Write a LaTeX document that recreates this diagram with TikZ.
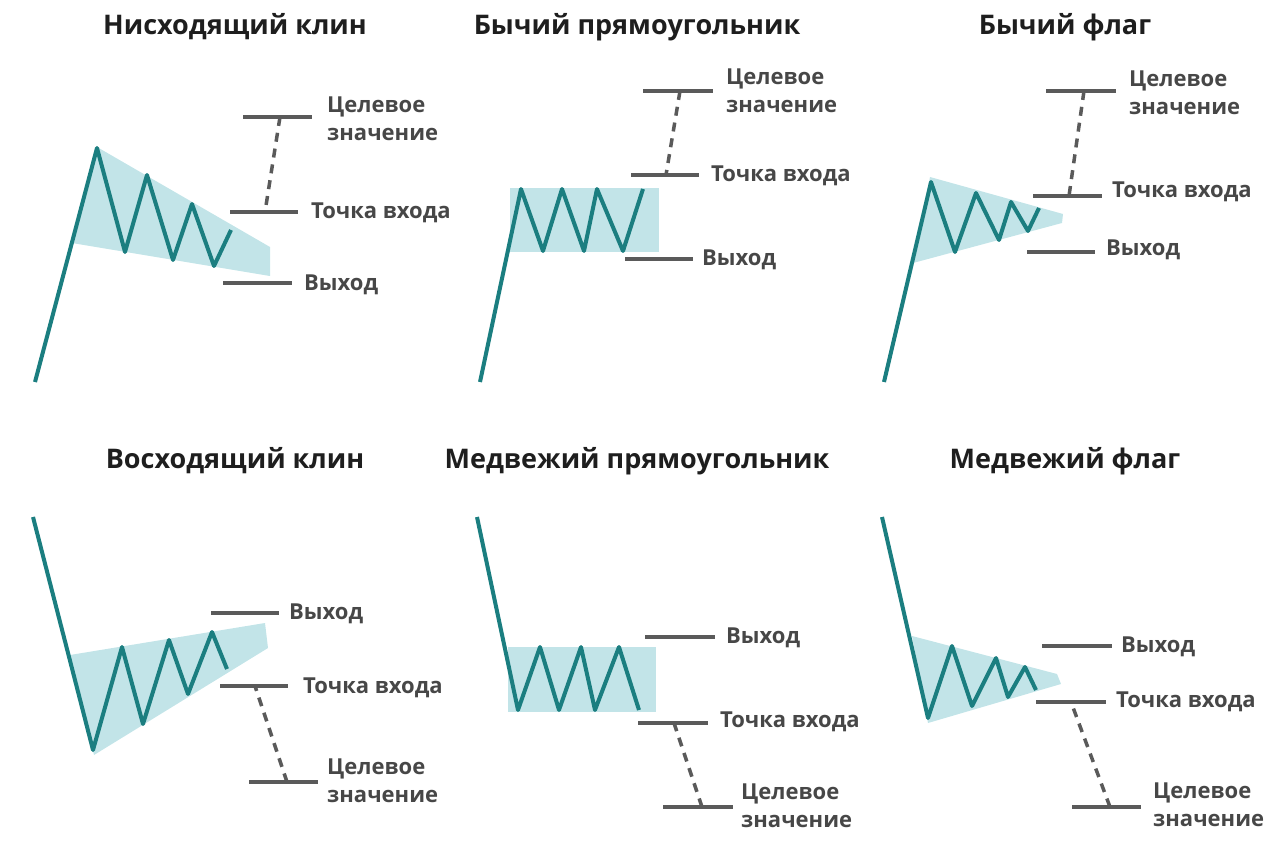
\documentclass[tikz,border=0pt]{standalone}
\usepackage{fontspec}
\setmainfont{Open Sans}
\definecolor{trend}{HTML}{1B7E80}
\definecolor{zone}{HTML}{C2E4E8}
\definecolor{bar}{HTML}{5A5A5A}
\definecolor{tagtext}{HTML}{474747}
\definecolor{headtext}{HTML}{1E1E1E}

\begin{document}
\begin{tikzpicture}[x=1pt, y=-1pt]

    % Define styles
    \tikzstyle{headline} = [font=\bfseries\fontsize{27}{32}\selectfont, text=headtext]
    \tikzstyle{tag} = [anchor=west, inner sep=0pt, align=left,
        font=\bfseries\fontsize{22}{28}\selectfont, text=tagtext]
    \tikzstyle{price} = [draw=trend, line width=4pt, line join=round]
    \tikzstyle{band} = [fill=zone]
    \tikzstyle{levelbar} = [draw=bar, line width=4pt]
    \tikzstyle{projection} = [draw=bar, line width=3.5pt, dash pattern=on 9pt off 7pt]

    \useasboundingbox (0,0) rectangle (1280,848);

    % Falling wedge
    \node[headline] (fallTitle) at (235,27) {Нисходящий клин};
    \fill[band] (97,147) -- (270,247) -- (270,276) -- (72,243) -- cycle;
    \draw[price] (35,382) -- (97,148) -- (125,252) -- (147,175) -- (173,260)
        -- (192,204) -- (214,266) -- (231,230);
    \coordinate (fallTarget1) at (243,117);
    \coordinate (fallTarget2) at (312,117);
    \coordinate (fallGoal) at (280,117);
    \coordinate (fallEntry1) at (230,212);
    \coordinate (fallEntry2) at (298,212);
    \coordinate (fallStart) at (265,212);
    \coordinate (fallExit1) at (223,283);
    \coordinate (fallExit2) at (292,283);
    \node[tag] (fallTargetText) at (327,119) {Целевое\\значение};
    \node[tag] (fallEntryText) at (311,213) {Точка входа};
    \node[tag] (fallExitText) at (304,285) {Выход};

    % Bullish rectangle
    \node[headline] (bullRectTitle) at (637,27) {Бычий прямоугольник};
    \fill[band] (510,188) rectangle (659,252);
    \draw[price] (480,382) -- (521,189) -- (543,251) -- (562,189) -- (584,251)
        -- (597,189) -- (623,251) -- (643,189);
    \coordinate (bullRectTarget1) at (643,91);
    \coordinate (bullRectTarget2) at (713,91);
    \coordinate (bullRectGoal) at (680,91);
    \coordinate (bullRectEntry1) at (631,175);
    \coordinate (bullRectEntry2) at (699,175);
    \coordinate (bullRectStart) at (666,175);
    \coordinate (bullRectExit1) at (625,259);
    \coordinate (bullRectExit2) at (693,259);
    \node[tag] (bullRectTargetText) at (726,91) {Целевое\\значение};
    \node[tag] (bullRectEntryText) at (711,176) {Точка входа};
    \node[tag] (bullRectExitText) at (702,260) {Выход};

    % Bullish flag
    \node[headline] (bullFlagTitle) at (1065,27) {Бычий флаг};
    \fill[band] (930,177) -- (1063,214) -- (1062,223) -- (913,263) -- cycle;
    \draw[price] (884,382) -- (931,182) -- (955,252) -- (976,193) -- (999,240)
        -- (1011,202) -- (1028,231) -- (1039,208);
    \coordinate (bullFlagTarget1) at (1046,91);
    \coordinate (bullFlagTarget2) at (1116,91);
    \coordinate (bullFlagGoal) at (1084,91);
    \coordinate (bullFlagEntry1) at (1033,196);
    \coordinate (bullFlagEntry2) at (1102,196);
    \coordinate (bullFlagStart) at (1069,196);
    \coordinate (bullFlagExit1) at (1027,252);
    \coordinate (bullFlagExit2) at (1095,252);
    \node[tag] (bullFlagTargetText) at (1129,93) {Целевое\\значение};
    \node[tag] (bullFlagEntryText) at (1112,192) {Точка входа};
    \node[tag] (bullFlagExitText) at (1106,250) {Выход};

    % Rising wedge
    \node[headline] (riseTitle) at (235,461) {Восходящий клин};
    \fill[band] (70,655) -- (265,623) -- (268,648) -- (94,755) -- cycle;
    \draw[price] (33,517) -- (93,750) -- (122,647) -- (143,724) -- (169,640)
        -- (188,694) -- (212,632) -- (227,669);
    \coordinate (riseExit1) at (211,613);
    \coordinate (riseExit2) at (279,613);
    \coordinate (riseEntry1) at (220,686);
    \coordinate (riseEntry2) at (288,686);
    \coordinate (riseStart) at (255,686);
    \coordinate (riseTarget1) at (249,782);
    \coordinate (riseTarget2) at (318,782);
    \coordinate (riseGoal) at (287,782);
    \node[tag] (riseExitText) at (289,614) {Выход};
    \node[tag] (riseEntryText) at (303,688) {Точка входа};
    \node[tag] (riseTargetText) at (327,781) {Целевое\\значение};

    % Bearish rectangle
    \node[headline] (bearRectTitle) at (637,461) {Медвежий прямоугольник};
    \fill[band] (508,647) rectangle (656,712);
    \draw[price] (477,517) -- (518,710) -- (540,647) -- (559,710) -- (581,647)
        -- (595,710) -- (619,647) -- (639,710);
    \coordinate (bearRectExit1) at (645,637);
    \coordinate (bearRectExit2) at (715,637);
    \coordinate (bearRectEntry1) at (638,723);
    \coordinate (bearRectEntry2) at (708,723);
    \coordinate (bearRectStart) at (674,723);
    \coordinate (bearRectTarget1) at (663,807);
    \coordinate (bearRectTarget2) at (733,807);
    \coordinate (bearRectGoal) at (702,807);
    \node[tag] (bearRectExitText) at (726,638) {Выход};
    \node[tag] (bearRectEntryText) at (720,722) {Точка входа};
    \node[tag] (bearRectTargetText) at (741,806) {Целевое\\значение};

    % Bearish flag
    \node[headline] (bearFlagTitle) at (1065,461) {Медвежий флаг};
    \fill[band] (912,636) -- (1057,674) -- (1061,684) -- (928,723) -- cycle;
    \draw[price] (882,517) -- (928,718) -- (952,646) -- (972,706) -- (996,658)
        -- (1008,697) -- (1025,667) -- (1036,690);
    \coordinate (bearFlagExit1) at (1042,646);
    \coordinate (bearFlagExit2) at (1112,646);
    \coordinate (bearFlagEntry1) at (1036,702);
    \coordinate (bearFlagEntry2) at (1106,702);
    \coordinate (bearFlagStart) at (1071,702);
    \coordinate (bearFlagTarget1) at (1072,807);
    \coordinate (bearFlagTarget2) at (1141,807);
    \coordinate (bearFlagGoal) at (1110,807);
    \node[tag] (bearFlagExitText) at (1121,647) {Выход};
    \node[tag] (bearFlagEntryText) at (1116,702) {Точка входа};
    \node[tag] (bearFlagTargetText) at (1153,805) {Целевое\\значение};

    % Levels
    \foreach \p in {fall, bullRect, bullFlag, rise, bearRect, bearFlag} {
        \draw[levelbar] (\p Target1) -- (\p Target2);
        \draw[levelbar] (\p Entry1) -- (\p Entry2);
        \draw[levelbar] (\p Exit1) -- (\p Exit2);
        \draw[projection] (\p Goal) -- (\p Start);
    }

\end{tikzpicture}
\end{document}
